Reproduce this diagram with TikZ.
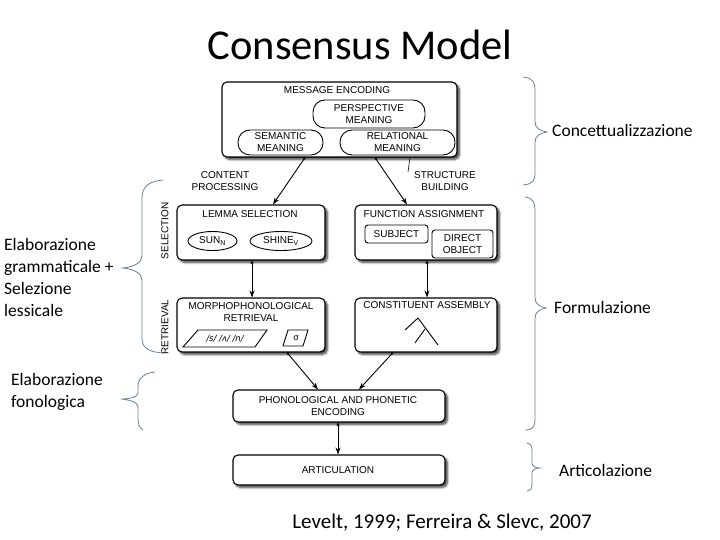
\documentclass[tikz,border=0pt]{standalone}
\usepackage{fontspec}
\setmainfont{Liberation Sans}
\newfontfamily\calib{Carlito}
\newfontfamily\dejavu{DejaVu Sans}
\usetikzlibrary{shapes.geometric,shadows.blur,arrows.meta}
\definecolor{bracecol}{RGB}{105,128,150}
\begin{document}
\begin{tikzpicture}[x=1pt,y=-1pt,
  box/.style={draw, line width=1.1pt, rounded corners=5pt, fill=white,
    blur shadow={shadow xshift=2.5pt, shadow yshift=-2.5pt, shadow blur steps=6, shadow opacity=75},
    inner sep=0pt},
  pill/.style={draw, line width=0.9pt, rounded corners=12pt, fill=white, inner sep=0pt,
    font=\fontsize{10}{12}\selectfont, align=center},
  ell/.style={draw, ellipse, line width=0.9pt, inner sep=0pt, font=\fontsize{10}{12}\selectfont},
  rbox/.style={draw, line width=0.9pt, rounded corners=3pt, inner sep=0pt,
    font=\fontsize{10}{12}\selectfont, align=center},
  lab/.style={inner sep=0pt, font=\fontsize{10}{12}\selectfont, align=center},
  itlab/.style={inner sep=0pt, font=\calib\fontsize{17.5}{22}\selectfont, align=left},
  arr/.style={line width=0.9pt, {Circle[open,length=2.5pt]}-{Stealth[length=7pt,width=5pt]}},
  darr/.style={line width=0.9pt, {Triangle[open,length=3pt,width=3pt]}-{Stealth[length=7pt,width=5pt]}},
  brace/.style={draw=bracecol, line width=0.8pt},
]
\useasboundingbox (0,0) rectangle (720,540);

% title
\node[inner sep=0pt, font=\calib\fontsize{42.5}{48}\selectfont] (title) at (360,45) {Consensus Model};

% message encoding
\node[box, minimum width=235pt, minimum height=75pt] (msg) at (339.5,119.5) {};
\node[lab] (msgT) at (337,90) {MESSAGE ENCODING};
\node[pill, minimum width=112pt, minimum height=28pt] (persp) at (369,114) {PERSPECTIVE\\MEANING};
\node[pill, minimum width=85pt, minimum height=25pt] (sem) at (280.5,142.5) {SEMANTIC\\MEANING};
\node[pill, minimum width=115pt, minimum height=25pt] (rel) at (397.5,142.5) {RELATIONAL\\MEANING};

\node[lab] (cp) at (225,181) {CONTENT\\PROCESSING};
\node[lab] (sb) at (445,181) {STRUCTURE\\BUILDING};
\coordinate (tick) at (408,172);
\draw[line width=0.6pt] ([xshift=70.5pt]msg.south) -- (tick);

% lemma selection
\node[box, minimum width=148pt, minimum height=55pt] (lemma) at (251,232.5) {};
\node[lab] (lemmaT) at (250,214) {LEMMA SELECTION};
\node[ell, minimum width=49pt, minimum height=19pt] (sun) at (212.5,241) {SUN\textsubscript{N}};
\node[ell, minimum width=62pt, minimum height=19pt] (shine) at (281,241) {SHINE\textsubscript{V}};

% function assignment
\node[box, minimum width=142pt, minimum height=55pt] (func) at (426,232.5) {};
\node[lab] (funcT) at (424,214) {FUNCTION ASSIGNMENT};
\node[rbox, minimum width=63pt, minimum height=18pt] (subj) at (396.5,234) {SUBJECT};
\node[rbox, minimum width=61pt, minimum height=28pt] (dobj) at (462.5,244) {DIRECT\\OBJECT};

% side vertical labels
\node[lab, rotate=90] (sel) at (165,231) {SELECTION};
\node[lab, rotate=90] (ret) at (165,327) {RETRIEVAL};

% morphophonological retrieval
\node[box, minimum width=148pt, minimum height=54pt] (morph) at (251,325) {};
\node[lab] (morphT) at (251,312.5) {MORPHOPHONOLOGICAL\\RETRIEVAL};
\draw[line width=0.9pt] (183,347) -- (198,330) -- (267,330) -- (255,347) -- cycle;
\node[inner sep=0pt, font=\dejavu\itshape\fontsize{8.5}{10}\selectfont] (phon) at (225,339) {/s/ /ʌ/ /n/};
\draw[line width=0.9pt] (283,346) -- (288,330) -- (308,330) -- (303,346) -- cycle;
\node[inner sep=0pt, font=\dejavu\fontsize{8.5}{10}\selectfont] (sig) at (296,338) {σ};

% constituent assembly
\node[box, minimum width=142pt, minimum height=54pt] (const) at (426,325) {};
\node[lab] (constT) at (427,305) {CONSTITUENT ASSEMBLY};
\draw[line width=0.9pt] (405,330) -- (418,318) -- (438,345);
\draw[line width=0.9pt] (425,329) -- (415,343);

% phonological encoding
\node[box, minimum width=212pt, minimum height=32pt] (phono) at (339,406) {};
\node[lab] (phonoT) at (338,406.5) {PHONOLOGICAL AND PHONETIC\\ENCODING};

% articulation
\node[box, minimum width=212pt, minimum height=30pt] (artic) at (339,470) {};
\node[lab] (articT) at (338,470) {ARTICULATION};

% connectors
\draw[arr] ([xshift=-34.5pt]msg.south) -- ([xshift=22pt]lemma.north);
\draw[arr] ([xshift=35.5pt]msg.south) -- ([xshift=-19pt]func.north);
\draw[darr] ([xshift=1pt]lemma.south) -- ([xshift=1pt]morph.north);
\draw[darr] ([xshift=1pt]func.south) -- ([xshift=1pt]const.north);
\draw[arr] ([xshift=36pt]morph.south) -- ([xshift=-21pt]phono.north);
\draw[arr] ([xshift=-33pt]const.south) -- ([xshift=20pt]phono.north);
\draw[darr] ([xshift=-1pt]phono.south) -- ([xshift=-1pt]artic.north);

% right braces
\draw[brace] (523,77) .. controls (533,78) and (535,82) .. (535,92) -- (535,122)
  .. controls (535,128) and (540,131) .. (547,132)
  .. controls (540,133) and (535,136) .. (535,142) -- (535,172)
  .. controls (535,181) and (533,184) .. (523,185);
\node[itlab, anchor=west] (concT) at (552,130) {Concettualizzazione};

\draw[brace] (525,197) .. controls (533,198) and (535,202) .. (535,212) -- (535,298)
  .. controls (535,304) and (540,307) .. (546,308)
  .. controls (540,309) and (535,312) .. (535,318) -- (535,418)
  .. controls (535,427) and (533,430) .. (525,430);
\node[itlab, anchor=west] (formT) at (554,307) {Formulazione};

\draw[brace] (527,443) .. controls (531,444) and (532,446) .. (532,451) -- (532,463)
  .. controls (532,466) and (535,468) .. (540,468)
  .. controls (535,468) and (532,470) .. (532,473) -- (532,484)
  .. controls (532,489) and (531,490) .. (527,491);
\node[itlab, anchor=west] (artT) at (559,470) {Articolazione};

% left braces
\draw[brace] (163,180) .. controls (150,181) and (142,186) .. (142,198) -- (142,256)
  .. controls (142,263) and (133,267) .. (123,268)
  .. controls (133,269) and (142,273) .. (142,280) -- (142,338)
  .. controls (142,349) and (150,352) .. (163,353);
\node[itlab, anchor=west] (gramT) at (4,277) {Elaborazione\\grammaticale +\\Selezione\\lessicale};

\draw[brace] (155,372) .. controls (145,373) and (138,378) .. (138,386) -- (138,393)
  .. controls (138,397) and (130,399) .. (121,399)
  .. controls (130,400) and (138,402) .. (138,407) -- (138,419)
  .. controls (138,425) and (140,428) .. (143,430);
\node[itlab, anchor=west] (fonT) at (11,392) {Elaborazione\\fonologica};

% citation
\node[inner sep=0pt, font=\calib\fontsize{21}{24}\selectfont] (cite) at (442,523) {Levelt, 1999; Ferreira \& Slevc, 2007};
\end{tikzpicture}
\end{document}
